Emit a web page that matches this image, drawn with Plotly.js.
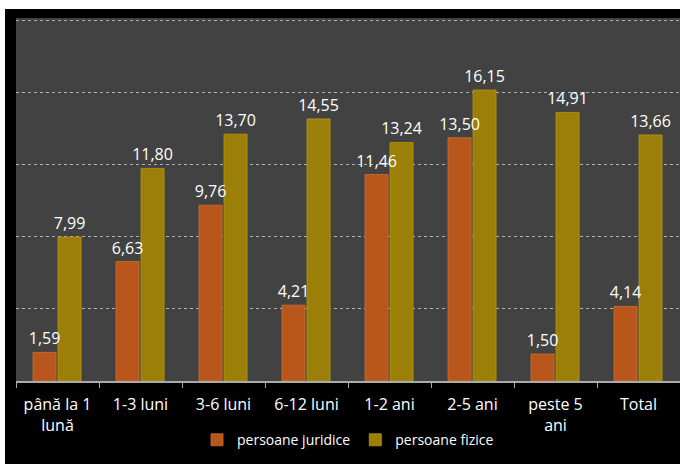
<!DOCTYPE html>
<html>
<head>
<meta charset="utf-8">
<script src="https://cdn.plot.ly/plotly-3.0.1.min.js"></script>
<style>
html,body{margin:0;padding:0;background:#ffffff;}
#chart{position:absolute;left:5px;top:9px;width:675px;height:455px;}
</style>
</head>
<body>
<div id="chart"></div>
<script>
var categories = ["până la 1<br>lună", "1-3 luni", "3-6 luni", "6-12 luni", "1-2 ani", "2-5 ani", "peste 5<br>ani", "Total"];
var juridice = [1.59, 6.63, 9.76, 4.21, 11.46, 13.50, 1.50, 4.14];
var fizice = [7.99, 11.80, 13.70, 14.55, 13.24, 16.15, 14.91, 13.66];
var seriesNames = ["persoane juridice", "persoane fizice"];

var fontFam = "'Open Sans', sans-serif";
// fizice drawn first so the juridice labels sit on top
var traces = [
  {type: "bar", name: seriesNames[1], x: categories, y: fizice,
   offset: 0.006, width: 0.278,
   marker: {color: "#9c7f08", line: {color: "#b8990f", width: 0.8}},
   texttemplate: "%{y:.2f}", textposition: "outside", cliponaxis: false, constraintext: "none",
   textfont: {color: "#ffffff", size: 16, family: fontFam}},
  {type: "bar", name: seriesNames[0], x: categories, y: juridice,
   offset: -0.295, width: 0.278,
   marker: {color: "#b9561c", line: {color: "#d0702e", width: 0.8}},
   texttemplate: "%{y:.2f}", textposition: "outside", cliponaxis: false, constraintext: "none",
   textfont: {color: "#ffffff", size: 16, family: fontFam}}
];

var layout = {
  width: 675, height: 455,
  paper_bgcolor: "#000000",
  plot_bgcolor: "#424242",
  separators: ", ",
  margin: {l: 11, r: 0, t: 9, b: 83},
  barmode: "overlay",
  font: {family: fontFam, color: "#ffffff", size: 15},
  showlegend: true,
  legend: {orientation: "h", traceorder: "reversed", x: 0.5, xanchor: "center", y: -0.163, yanchor: "middle",
           font: {size: 14, color: "#ffffff", family: fontFam}, itemwidth: 30, bgcolor: "rgba(0,0,0,0)"},
  xaxis: {type: "category", showline: true, linecolor: "#aaaaaa", linewidth: 1.5,
          ticks: "outside", tickson: "boundaries", ticklen: 5, tickcolor: "#aaaaaa",
          ticklabelstandoff: 8,
          tickfont: {size: 16, color: "#ffffff", family: fontFam}, showgrid: false, fixedrange: true},
  yaxis: {range: [0, 20.15], tickvals: [4, 8, 12, 16, 20], showticklabels: false, showgrid: true,
          gridcolor: "#b0b0b0", griddash: "dot", gridwidth: 1, zeroline: false, showline: false}
};

Plotly.newPlot("chart", traces, layout, {displayModeBar: false, staticPlot: true});
</script>
</body>
</html>
